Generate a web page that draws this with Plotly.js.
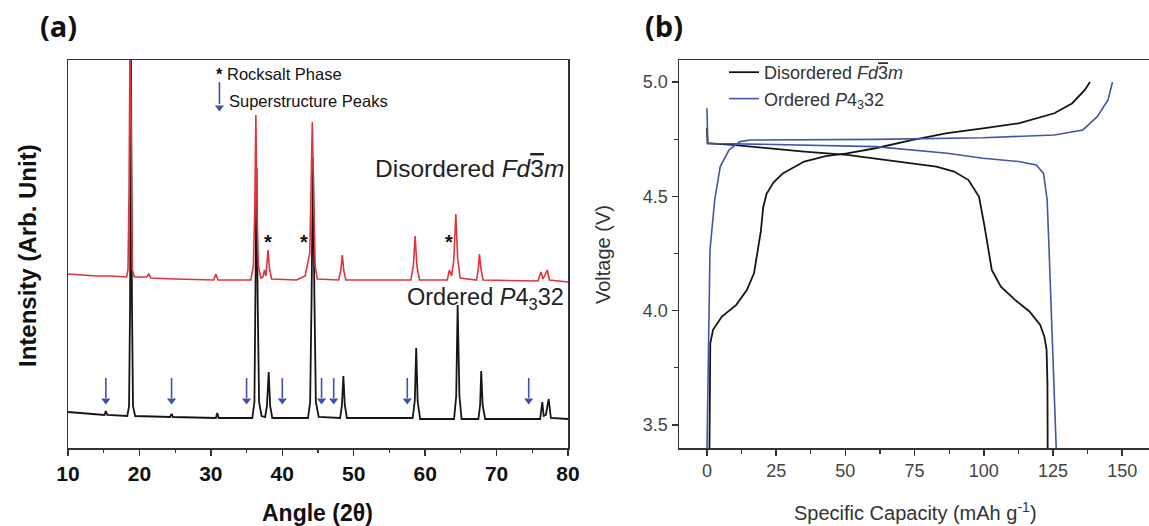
<!DOCTYPE html>
<html>
<head>
<meta charset="utf-8">
<script src="https://cdn.plot.ly/plotly-3.0.1.min.js"></script>
<style>html,body{margin:0;padding:0;background:#fff;}#chart{width:1149px;height:526px;}</style>
</head>
<body>
<div id="chart"></div>
<script>
// ---------- Panel (a): XRD patterns (intensity in arbitrary units) ----------
const disorderedAngle = [10,12,14,16,18.2,18.4,18.55,18.7,18.85,19.0,19.3,21.0,21.3,21.6,25,30.4,30.7,31.0,35.6,35.95,36.15,36.3,36.45,36.65,37.0,37.3,37.5,37.7,37.8,38.0,38.2,38.5,42,43.2,43.6,43.85,44.0,44.2,44.4,44.6,44.9,47.9,48.2,48.4,48.6,48.9,58.0,58.35,58.6,58.85,59.2,63.1,63.4,63.7,64.0,64.3,64.55,64.9,67.2,67.45,67.6,67.8,68.1,75.8,76.2,76.5,77.1,77.4,80];
const disorderedIntensity = [174,173,172,172,171,178,260,430,260,178,171,171,174,170,169,168,174,168,168,182,240,333,240,182,170,171,178,172,180,198,180,169,168,172,186,195,250,326,250,182,169,168,178,193,178,168,168,182,212,182,168,168,178,172,187,234,190,170,168,180,194,180,168,167,176,169,178,168,166];

const orderedAngle = [10,12,14,15.1,15.3,15.5,18.3,18.55,18.7,18.8,18.95,19.1,19.4,24.3,24.5,24.7,30.7,30.9,31.1,35.8,36.1,36.25,36.4,36.55,36.75,37.1,37.6,37.85,38.1,38.3,38.6,43.6,43.9,44.1,44.3,44.5,44.7,45.1,48.1,48.35,48.55,48.75,49.05,58.25,58.55,58.75,58.95,59.3,64.05,64.35,64.55,64.8,65.1,67.45,67.7,67.85,68.05,68.4,76.1,76.4,76.6,76.9,77.3,77.6,80];
const orderedIntensity = [36,35,34,33,37,33,32,42,150,430,150,42,32,31,34,31,30,35,30,30,46,150,280,150,46,32,31,42,76,42,30,30,46,150,290,150,46,31,30,43,72,43,30,30,47,100,47,29,29,52,143,52,29,29,43,77,43,29,29,46,32,33,49,30,29];

const superstructureArrows = [15.3,24.5,35.0,40.0,45.5,47.2,57.5,74.5];
const rocksaltStars = [38.0,43.0,63.4];

// ---------- Panel (b): charge/discharge curves ----------
const disChargeCap = [0.9,1.2,2.2,5.4,10.6,14.4,17,18.3,19.5,20.3,21.5,24,27.4,35.1,42.9,50.6,60.9,73.9,86.8,99.7,112.6,125.5,132,136.5,138.4];
const disChargeV   = [3.39,3.857,3.916,3.974,4.025,4.09,4.163,4.265,4.35,4.45,4.51,4.56,4.60,4.652,4.676,4.688,4.71,4.746,4.776,4.797,4.819,4.863,4.907,4.965,5.0];
const disDischCap  = [0,0.2,9.3,22.2,35.1,50.6,60.9,73.9,82.9,89.3,94.5,98.3,100.3,101.6,102.9,106.2,111.3,116.5,120.4,121.9,122.7,123,123.1];
const disDischV    = [4.80,4.732,4.725,4.71,4.695,4.681,4.666,4.644,4.63,4.608,4.571,4.498,4.367,4.265,4.178,4.105,4.047,3.996,3.937,3.886,3.828,3.683,3.39];

const ordChargeCap = [0,1.1,2.8,4.8,8.0,11.9,15.7,35.1,60.9,99.7,125.5,135.8,141,144.9,146.5];
const ordChargeV   = [3.39,4.265,4.484,4.63,4.703,4.739,4.746,4.746,4.749,4.756,4.768,4.79,4.848,4.921,5.0];
const ordDischCap  = [0,0.3,9.3,35.1,60.9,86.8,99.7,112.6,119,121.6,122.9,123.6,124.9,126.2];
const ordDischV    = [4.885,4.73,4.73,4.725,4.717,4.688,4.666,4.652,4.637,4.60,4.484,4.265,3.83,3.39];

const xTicksA = [10,20,30,40,50,60,70,80];
const xTicksB = [0,25,50,75,100,125,150];
const yTicksB = [3.5,4.0,4.5,5.0];

const RED = '#e2333d', BLACK = '#151515', BLUE = '#4455a6', ARROW = '#3f4fb2';
const FD3M = 'Disordered <i>Fd</i><span style="text-decoration:overline">3</span><i>m</i>';
const P4332 = 'Ordered <i>P</i>4<sub>3</sub>32';

// arrow geometry (arbitrary intensity units): tail, shaft end, head centre
const ARROW_TAIL = 70, ARROW_SHAFT = 50, ARROW_HEAD = 47.5;
const KEY_ARROW_X = 31.2, KEY_TAIL = 366, KEY_SHAFT = 344, KEY_HEAD = 340.5;

const shaftX = [], shaftY = [];
superstructureArrows.forEach(a => { shaftX.push(a, a, null); shaftY.push(ARROW_TAIL, ARROW_SHAFT, null); });
shaftX.push(KEY_ARROW_X, KEY_ARROW_X, null); shaftY.push(KEY_TAIL, KEY_SHAFT, null);
const headX = superstructureArrows.concat([KEY_ARROW_X]);
const headY = superstructureArrows.map(() => ARROW_HEAD).concat([KEY_HEAD]);

const traces = [
  {x: orderedAngle, y: orderedIntensity, xaxis:'x', yaxis:'y', mode:'lines', line:{color:BLACK,width:1.8}, showlegend:false, hoverinfo:'skip'},
  {x: disorderedAngle, y: disorderedIntensity, xaxis:'x', yaxis:'y', mode:'lines', line:{color:RED,width:1.6}, showlegend:false, hoverinfo:'skip'},
  {x: shaftX, y: shaftY, xaxis:'x', yaxis:'y', mode:'lines', line:{color:ARROW,width:1.6}, showlegend:false, hoverinfo:'skip'},
  {x: headX, y: headY, xaxis:'x', yaxis:'y', mode:'markers', marker:{symbol:'triangle-down', size:8, color:ARROW}, showlegend:false, hoverinfo:'skip'},
  {x: disChargeCap.concat([null]).concat(disDischCap), y: disChargeV.concat([null]).concat(disDischV), xaxis:'x2', yaxis:'y2', mode:'lines', line:{color:BLACK,width:1.8}, name: FD3M, connectgaps:false},
  {x: ordChargeCap.concat([null]).concat(ordDischCap), y: ordChargeV.concat([null]).concat(ordDischV), xaxis:'x2', yaxis:'y2', mode:'lines', line:{color:BLUE,width:1.6}, name: P4332, connectgaps:false}
];

const annotations = [];
rocksaltStars.forEach(a => annotations.push({x:a, y:206, xref:'x', yref:'y', text:'<b>*</b>', showarrow:false, xanchor:'center', yanchor:'middle', font:{family:'Liberation Sans, Arial', size:20, color:'#111'}}));
// key inside panel (a)
annotations.push({x:30.4, y:374, xref:'x', yref:'y', text:'<b>*</b> Rocksalt Phase', showarrow:false, xanchor:'left', yanchor:'middle', font:{family:'Liberation Sans, Arial', size:16.5, color:'#111'}});
annotations.push({x:32.3, y:347, xref:'x', yref:'y', text:'Superstructure Peaks', showarrow:false, xanchor:'left', yanchor:'middle', font:{family:'Liberation Sans, Arial', size:16.5, color:'#111'}});
annotations.push({x:79.7, y:280, xref:'x', yref:'y', text:FD3M, showarrow:false, xanchor:'right', yanchor:'middle', font:{family:'Liberation Sans, Arial', size:24.5, color:'#222'}});
annotations.push({x:79.7, y:150, xref:'x', yref:'y', text:P4332, showarrow:false, xanchor:'right', yanchor:'middle', font:{family:'Liberation Sans, Arial', size:23.5, color:'#222'}});
// panel labels
annotations.push({x:58/1149, y:1-25/526, xref:'paper', yref:'paper', text:'<b>(a)</b>', showarrow:false, xanchor:'center', yanchor:'middle', font:{family:'Open Sans, Arial', size:29, color:'#111'}});
annotations.push({x:664/1149, y:1-25/526, xref:'paper', yref:'paper', text:'<b>(b)</b>', showarrow:false, xanchor:'center', yanchor:'middle', font:{family:'Open Sans, Arial', size:29, color:'#111'}});
// axis titles
annotations.push({x:317/1149, y:1-513/526, xref:'paper', yref:'paper', text:'<b>Angle (2θ)</b>', showarrow:false, xanchor:'center', yanchor:'middle', font:{family:'Liberation Sans, Arial', size:23, color:'#111'}});
annotations.push({x:28/1149, y:1-256/526, xref:'paper', yref:'paper', text:'<b>Intensity (Arb. Unit)</b>', textangle:-90, showarrow:false, xanchor:'center', yanchor:'middle', font:{family:'Liberation Sans, Arial', size:24, color:'#111'}});
annotations.push({x:915/1149, y:1-511/526, xref:'paper', yref:'paper', text:'Specific Capacity (mAh g<sup>-1</sup>)', showarrow:false, xanchor:'center', yanchor:'middle', font:{family:'Liberation Sans, Arial', size:20, color:'#333'}});
annotations.push({x:603/1149, y:1-255/526, xref:'paper', yref:'paper', text:'Voltage (V)', textangle:-90, showarrow:false, xanchor:'center', yanchor:'middle', font:{family:'Liberation Sans, Arial', size:20, color:'#333'}});

const yDom = [1-448/526, 1-60/526];
const layout = {
  width:1149, height:526,
  margin:{l:0,r:0,t:0,b:0},
  paper_bgcolor:'#fff', plot_bgcolor:'#fff',
  showlegend:true,
  legend:{x:724/1149, y:1-54/526, xanchor:'left', yanchor:'top', bgcolor:'rgba(0,0,0,0)', font:{family:'Liberation Sans, Arial', size:18, color:'#333'}, tracegroupgap:0},
  xaxis:{domain:[68/1149, 568/1149], range:[10,80], tickvals:xTicksA, ticks:'outside', ticklen:6, tickwidth:1.5, tickcolor:'#333',
         minor:{dtick:5, ticks:'outside', ticklen:3, tickwidth:1.2, tickcolor:'#333', showgrid:false},
         showline:true, mirror:true, linecolor:'#333', linewidth:1.5, showgrid:false, zeroline:false,
         tickfont:{family:'Liberation Sans, Arial', size:21, weight:'bold', color:'#111'}},
  yaxis:{domain:yDom, range:[0,388], showticklabels:false, ticks:'', showline:true, mirror:true, linecolor:'#333', linewidth:1.5, showgrid:false, zeroline:false},
  xaxis2:{domain:[679/1149, 1], range:[-10.1,159.7], anchor:'y2', tickvals:xTicksB, ticks:'outside', ticklen:6, tickwidth:1.5, tickcolor:'#333',
         minor:{dtick:12.5, tick0:0, ticks:'outside', ticklen:4, tickwidth:1.2, tickcolor:'#333', showgrid:false},
         showline:true, mirror:true, linecolor:'#333', linewidth:1.5, showgrid:false, zeroline:false,
         tickfont:{family:'Liberation Sans, Arial', size:18, color:'#444'}},
  yaxis2:{domain:yDom, range:[3.399,5.096], anchor:'x2', tickvals:yTicksB, ticktext:['3.5','4.0','4.5','5.0'], ticks:'outside', ticklen:6, tickwidth:1.5, tickcolor:'#333',
         minor:{dtick:0.25, tick0:3.5, ticks:'outside', ticklen:4, tickwidth:1.2, tickcolor:'#333', showgrid:false},
         showline:true, mirror:true, linecolor:'#333', linewidth:1.5, showgrid:false, zeroline:false,
         tickfont:{family:'Liberation Sans, Arial', size:18, color:'#444'}},
  annotations: annotations
};
Plotly.newPlot('chart', traces, layout, {staticPlot:true, displayModeBar:false});
</script>
</body>
</html>
